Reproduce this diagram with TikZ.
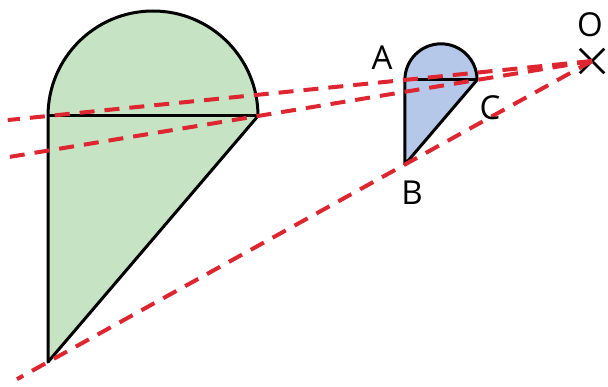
\documentclass[tikz,border=0pt]{standalone}
\usepackage{fontspec}
\setmainfont{Open Sans}
\usepackage{xcolor}
\usetikzlibrary{calc,shapes.misc}
\definecolor{bigfill}{RGB}{198,227,196}
\definecolor{smallfill}{RGB}{182,200,233}
\definecolor{raycol}{RGB}{222,38,48}

\begin{document}
\begin{tikzpicture}[x=1pt,y=-1pt,line join=round,
  outline/.style={draw=black,line width=3pt},
  ray/.style={draw=raycol,line width=4pt,dash pattern=on 15pt off 10pt},
  lbl/.style={font=\fontsize{33}{36}\selectfont,inner sep=0pt}]
\useasboundingbox (0,0) rectangle (608,387);
\node[draw,cross out,line width=2.5pt,minimum size=22pt,inner sep=0pt] (O) at (592,61) {};
% large shape
\coordinate (Ab) at (48,116);
\coordinate (Cb) at (258,116);
\coordinate (Bb) at (48,362);
% small shape, image of the large one seen from O
\coordinate (A) at ($(O.center)!0.344!(Ab)$);
\coordinate (C) at ($(O.center)!0.344!(Cb)$);
\coordinate (B) at ($(O.center)!0.344!(Bb)$);
\draw[outline,fill=bigfill] (Ab) arc[start angle=180,end angle=360,radius=105] -- (Bb) -- cycle;
\draw[outline] (Ab) -- (Cb);
\draw[outline,fill=smallfill] (A) arc[start angle=180,end angle=360,radius=36.1] -- (B) -- cycle;
\draw[outline] (A) -- (C);
% rays
\coordinate (endA) at ($(O.center)!1.074!(Ab)$);
\coordinate (endC) at ($(O.center)!1.749!(Cb)$);
\coordinate (endB) at ($(O.center)!1.057!(Bb)$);
\draw[ray] (O.center) -- (endA);
\draw[ray] (O.center) -- (endC);
\draw[ray] (O.center) -- (endB);
\node[lbl] (labA) at (382,58) {A};
\node[lbl] (labB) at (412,193) {B};
\node[lbl] (labC) at (490,108) {C};
\node[lbl] (labO) at (590,25) {O};
\end{tikzpicture}
\end{document}
